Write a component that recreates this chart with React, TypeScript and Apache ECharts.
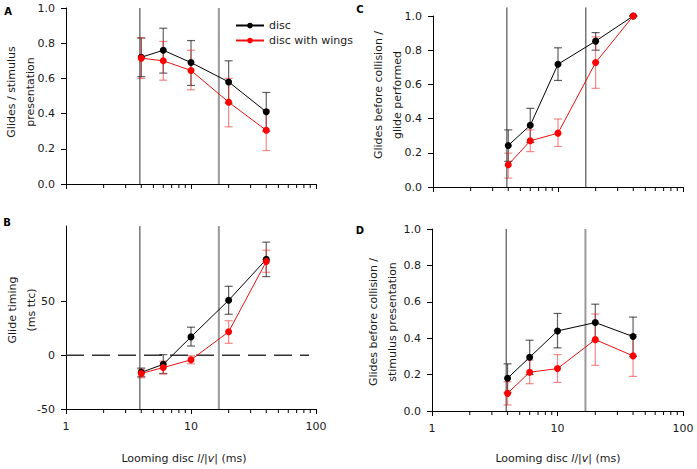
import React, { useEffect, useRef } from 'react';
import * as echarts from 'echarts';

// ---------- data ----------
const X_VALUES = [4, 6, 10, 20, 40];
const SERIES_NAMES = ['disc', 'disc with wings'];
const MINOR_TICKS = [2, 3, 4, 5, 6, 7, 8, 9, 20, 30, 40, 50, 60, 70, 80, 90];
const REF_LINES = [3.9, 16.7];
const ZERO_LINE_X = [1, 88];
const Y_TICKS_B = [-50, 0, 50, 100];

const A_DISC = [0.72, 0.76, 0.69, 0.58, 0.41];
const A_DISC_LO = [0.61, 0.63, 0.56, 0.46, 0.3];
const A_DISC_HI = [0.83, 0.885, 0.815, 0.7, 0.52];
const A_WINGS = [0.715, 0.7, 0.645, 0.465, 0.305];
const A_WINGS_LO = [0.6, 0.59, 0.535, 0.325, 0.19];
const A_WINGS_HI = [0.83, 0.81, 0.76, 0.6, 0.42];

const B_DISC = [-16, -8.5, 17, 51, 89];
const B_DISC_LO = [-20, -17, 8.5, 38, 73];
const B_DISC_HI = [-12, 0.5, 26, 64, 105];
const B_WINGS = [-17, -11.5, -4.3, 21.7, 87];
const B_WINGS_LO = [-21, -17.5, -8, 11, 77];
const B_WINGS_HI = [-13, -5.5, -0.5, 32, 97.5];

const C_DISC = [0.243, 0.361, 0.718, 0.853, 1.0];
const C_DISC_LO = [0.15, 0.26, 0.623, 0.8, 1.0];
const C_DISC_HI = [0.334, 0.46, 0.814, 0.903, 1.0];
const C_WINGS = [0.13, 0.27, 0.315, 0.728, 1.0];
const C_WINGS_LO = [0.052, 0.207, 0.237, 0.577, 1.0];
const C_WINGS_HI = [0.198, 0.334, 0.398, 0.878, 1.0];

const D_DISC = [0.18, 0.295, 0.44, 0.486, 0.409];
const D_DISC_LO = [0.1, 0.2, 0.347, 0.385, 0.3];
const D_DISC_HI = [0.259, 0.389, 0.536, 0.587, 0.516];
const D_WINGS = [0.097, 0.213, 0.233, 0.392, 0.303];
const D_WINGS_LO = [0.033, 0.15, 0.157, 0.251, 0.19];
const D_WINGS_HI = [0.161, 0.28, 0.31, 0.533, 0.42];

// ---------- styling ----------
const FONT = 'DejaVu Sans';
const TXT = '#1a1a1a';
const BLACK = '#000000';
const RED = '#ff0000';
const BLACK_ERR = 'rgba(0,0,0,0.62)';
const RED_ERR = 'rgba(238,40,40,0.55)';
const REF_DARK = { stroke: '#333333', lineWidth: 1 };
const REF_GRAY = { stroke: '#999999', lineWidth: 2 };

const PANELS = [
  {
    grid: { left: 66, top: 8, width: 250, height: 176 },
    yMin: 0, yMax: 1, refTop: 1, xLabels: false, zero: false,
    refStyles: [REF_DARK, REF_GRAY],
    disc: [A_DISC, A_DISC_LO, A_DISC_HI], wings: [A_WINGS, A_WINGS_LO, A_WINGS_HI],
  },
  {
    grid: { left: 66, top: 226, width: 250, height: 183 },
    yMin: -50, yMax: 120, refTop: 120, xLabels: true, zero: true,
    refStyles: [REF_DARK, REF_GRAY],
    disc: [B_DISC, B_DISC_LO, B_DISC_HI], wings: [B_WINGS, B_WINGS_LO, B_WINGS_HI],
  },
  {
    grid: { left: 433, top: 16, width: 250, height: 171 },
    yMin: 0, yMax: 1, refTop: 1.05, xLabels: false, zero: false,
    refStyles: [REF_DARK, REF_DARK],
    disc: [C_DISC, C_DISC_LO, C_DISC_HI], wings: [C_WINGS, C_WINGS_LO, C_WINGS_HI],
  },
  {
    grid: { left: 432, top: 229, width: 251, height: 182 },
    yMin: 0, yMax: 1, refTop: 1, xLabels: true, zero: false,
    refStyles: [REF_DARK, REF_GRAY],
    disc: [D_DISC, D_DISC_LO, D_DISC_HI], wings: [D_WINGS, D_WINGS_LO, D_WINGS_HI],
  },
];

function errorBars(g: number, lo: number[], hi: number[], color: string) {
  return {
    type: 'custom', xAxisIndex: g, yAxisIndex: g, z: 3, silent: true, clip: false,
    data: X_VALUES.map((x, i) => [x, lo[i], hi[i]]),
    encode: { x: 0, y: [1, 2] },
    renderItem: (_p: any, api: any) => {
      const x = api.value(0);
      const pl = api.coord([x, api.value(1)]);
      const ph = api.coord([x, api.value(2)]);
      const w = 4;
      const style = { stroke: color, lineWidth: 1.2 };
      return {
        type: 'group',
        children: [
          { type: 'line', shape: { x1: pl[0], y1: pl[1], x2: ph[0], y2: ph[1] }, style },
          { type: 'line', shape: { x1: pl[0] - w, y1: pl[1], x2: pl[0] + w, y2: pl[1] }, style },
          { type: 'line', shape: { x1: ph[0] - w, y1: ph[1], x2: ph[0] + w, y2: ph[1] }, style },
        ],
      };
    },
  };
}

function buildOption() {
  const grid: any[] = [];
  const xAxis: any[] = [];
  const yAxis: any[] = [];
  const series: any[] = [];
  const labelStyle = { fontFamily: FONT, fontSize: 11, color: TXT };

  PANELS.forEach((p, g) => {
    grid.push({ ...p.grid });
    xAxis.push({
      type: 'log', logBase: 10, min: 1, max: 100, gridIndex: g,
      axisLine: { show: true, onZero: false, lineStyle: { color: BLACK, width: 1 } },
      axisTick: { show: true, length: 5, inside: false, lineStyle: { color: BLACK } },
      axisLabel: { show: p.xLabels, margin: 12, ...labelStyle },
      splitLine: { show: false },
    });
    const isB = g === 1;
    yAxis.push({
      type: 'value', gridIndex: g, min: p.yMin, max: p.yMax,
      interval: isB ? 50 : 0.2,
      axisLine: { show: true, onZero: false, lineStyle: { color: BLACK, width: 1 } },
      axisTick: isB
        ? { show: true, length: 5, customValues: Y_TICKS_B, lineStyle: { color: BLACK } }
        : { show: true, length: 5, lineStyle: { color: BLACK } },
      axisLabel: isB
        ? {
            margin: 11, ...labelStyle, customValues: Y_TICKS_B, showMaxLabel: false,
            formatter: (v: number) => (v % 50 === 0 ? String(v) : ''),
          }
        : { margin: 11, ...labelStyle, formatter: (v: number) => v.toFixed(1) },
      splitLine: { show: false },
    });

    // vertical reference lines + minor ticks of the log x axis (one custom series)
    const decor: any[] = [];
    REF_LINES.forEach((x, i) => decor.push([x, p.yMin, 0, i]));
    MINOR_TICKS.forEach((v) => decor.push([v, p.yMin, 1, 0]));
    series.push({
      type: 'custom', xAxisIndex: g, yAxisIndex: g, z: 10, silent: true, clip: false,
      data: decor,
      encode: { x: 0, y: 1 },
      renderItem: (_pp: any, api: any) => {
        const x = api.value(0);
        const kind = api.value(2);
        const a = api.coord([x, p.yMin]);
        if (kind === 1) {
          return {
            type: 'line', z2: 100,
            shape: { x1: a[0], y1: a[1], x2: a[0], y2: a[1] + 4 },
            style: { stroke: BLACK, lineWidth: 1 },
          };
        }
        const b = api.coord([x, p.refTop]);
        return {
          type: 'line', z2: 0,
          shape: { x1: a[0], y1: a[1], x2: b[0], y2: b[1] },
          style: { ...p.refStyles[api.value(3)] },
        };
      },
    });

    if (p.zero) {
      series.push({
        type: 'custom', xAxisIndex: g, yAxisIndex: g, z: 1, silent: true, clip: false,
        data: [[ZERO_LINE_X[0], 0, ZERO_LINE_X[1]]],
        encode: { x: 0, y: 1 },
        renderItem: (_pp: any, api: any) => {
          const a = api.coord([api.value(0), api.value(1)]);
          const b = api.coord([api.value(2), api.value(1)]);
          return {
            type: 'line',
            shape: { x1: a[0], y1: a[1], x2: b[0], y2: b[1] },
            style: { stroke: '#333333', lineWidth: 1.5, lineDash: [18, 8] },
          };
        },
      });
    }

    series.push(errorBars(g, p.disc[1], p.disc[2], BLACK_ERR));
    series.push(errorBars(g, p.wings[1], p.wings[2], RED_ERR));

    series.push({
      type: 'line', name: SERIES_NAMES[0], xAxisIndex: g, yAxisIndex: g, z: 11,
      data: X_VALUES.map((x, i) => [x, p.disc[0][i]]),
      symbol: 'circle', symbolSize: 7,
      itemStyle: { color: BLACK },
      lineStyle: { color: BLACK, width: 1 },
    });
    series.push({
      type: 'line', name: SERIES_NAMES[1], xAxisIndex: g, yAxisIndex: g, z: 12,
      data: X_VALUES.map((x, i) => [x, p.wings[0][i]]),
      symbol: 'circle', symbolSize: 7,
      itemStyle: { color: RED },
      lineStyle: { color: '#ee1111', width: 1 },
    });
  });

  const richTitle = {
    n: { fontFamily: FONT, fontSize: 11, fill: TXT },
    i: { fontFamily: FONT, fontSize: 11, fill: TXT, fontStyle: 'italic' },
  };
  const xTitle = '{n|Looming disc }{i|l}{n|/|}{i|v}{n|| (ms)}';

  const yTitle = (x: number, y: number, text: string) => ({
    type: 'text', x, y, rotation: Math.PI / 2,
    style: {
      text, align: 'center', verticalAlign: 'middle', lineHeight: 19,
      fontFamily: FONT, fontSize: 11, fill: TXT,
    },
  });
  const letter = (x: number, y: number, text: string) => ({
    type: 'text', x, y,
    style: {
      text, align: 'center', verticalAlign: 'middle',
      fontFamily: FONT, fontSize: 10, fontWeight: 'bold', fill: '#000',
    },
  });

  const graphic = [
    letter(8, 11, 'A'),
    letter(7, 222, 'B'),
    letter(360, 9, 'C'),
    letter(360, 230, 'D'),
    yTitle(20.5, 92, 'Glides / stimulus\npresentation'),
    yTitle(22, 310, 'Glide timing\n(ms ttc)'),
    yTitle(387.5, 95, 'Glides before collision /\nglide performed'),
    yTitle(383, 322, 'Glides before collision /\nstimulus presentation'),
    {
      type: 'text', x: 184, y: 458,
      style: { text: xTitle, rich: richTitle, align: 'center', verticalAlign: 'middle', fontFamily: FONT, fontSize: 11 },
    },
    {
      type: 'text', x: 558, y: 458,
      style: { text: xTitle, rich: richTitle, align: 'center', verticalAlign: 'middle', fontFamily: FONT, fontSize: 11 },
    },
  ];

  return {
    animation: false,
    backgroundColor: '#ffffff',
    textStyle: { fontFamily: FONT },
    grid,
    xAxis,
    yAxis,
    legend: {
      data: SERIES_NAMES,
      orient: 'vertical',
      left: 230,
      top: 15,
      itemWidth: 28,
      itemHeight: 7,
      itemGap: 4,
      textStyle: { fontFamily: FONT, fontSize: 11, color: TXT },
    },
    series,
    graphic,
  };
}

export default function App() {
  const ref = useRef<HTMLDivElement>(null);
  useEffect(() => {
    document.body.style.margin = '0';
    if (!ref.current) return;
    const chart = echarts.init(ref.current, undefined, { renderer: 'svg' });
    chart.setOption(buildOption() as any);
    return () => chart.dispose();
  }, []);
  return <div ref={ref} style={{ width: 697, height: 469 }} />;
}
